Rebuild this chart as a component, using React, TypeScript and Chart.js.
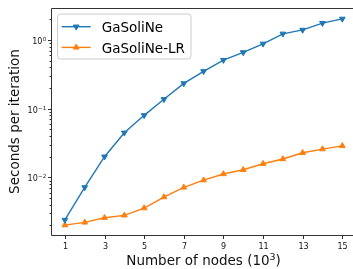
import React, { useEffect, useRef } from 'react';
import { Chart, registerables } from 'chart.js';

Chart.register(...registerables);

// ---- data ----
const nodes = [1, 2, 3, 4, 5, 6, 7, 8, 9, 10, 11, 12, 13, 14, 15];
const gasoline = [0.0024, 0.00715, 0.02, 0.0446, 0.08, 0.137, 0.233, 0.35, 0.51, 0.66, 0.88, 1.23, 1.4, 1.76, 2.03];
const gasolineLR = [0.00202, 0.00221, 0.00258, 0.0028, 0.00357, 0.00517, 0.00715, 0.0091, 0.0112, 0.0129, 0.0158, 0.0185, 0.0228, 0.0258, 0.0288];
const seriesLabels = ['GaSoliNe', 'GaSoliNe-LR'];
const seriesColors = ['#1f77b4', '#ff7f0e'];
const xTickValues = [1, 3, 5, 7, 9, 11, 13, 15];
const yDecadeExponents = [-3, -2, -1, 0];
const xTitleMain = 'Number of nodes (10';
const xTitleSup = '3';
const xTitleEnd = ')';
const yTitle = 'Seconds per iteration';

const FONT = '"DejaVu Sans", sans-serif';
const SPINE = '#333333';
const TEXT = '#111111';
const W = 353;
const H = 269;

function triangle(ctx: CanvasRenderingContext2D, x: number, y: number, r: number, down: boolean) {
  const s = down ? -1 : 1;
  ctx.beginPath();
  for (let k = 0; k < 3; k++) {
    const a = (k * 2 * Math.PI) / 3;
    const px = x + Math.sin(a) * r;
    const py = y - s * Math.cos(a) * r;
    if (k === 0) ctx.moveTo(px, py);
    else ctx.lineTo(px, py);
  }
  ctx.closePath();
}

function roundRect(ctx: CanvasRenderingContext2D, x: number, y: number, w: number, h: number, r: number) {
  ctx.beginPath();
  ctx.moveTo(x + r, y);
  ctx.lineTo(x + w - r, y);
  ctx.arcTo(x + w, y, x + w, y + r, r);
  ctx.lineTo(x + w, y + h - r);
  ctx.arcTo(x + w, y + h, x + w - r, y + h, r);
  ctx.lineTo(x + r, y + h);
  ctx.arcTo(x, y + h, x, y + h - r, r);
  ctx.lineTo(x, y + r);
  ctx.arcTo(x, y, x + r, y, r);
  ctx.closePath();
}

const axesPlugin = {
  id: 'mplAxes',
  afterDraw(chart: any) {
    const { ctx, chartArea: ca, scales } = chart;
    const xs = scales.x;
    const ys = scales.y;
    ctx.save();

    // frame (right spine lies beyond the visible area)
    ctx.strokeStyle = SPINE;
    ctx.lineWidth = 1;
    const L = Math.round(ca.left) + 0.5;
    const R = ca.right + 5;
    const T = Math.round(ca.top) + 0.5;
    const B = Math.round(ca.bottom) + 0.5;
    ctx.beginPath();
    ctx.moveTo(R, T);
    ctx.lineTo(L, T);
    ctx.lineTo(L, B);
    ctx.lineTo(R, B);
    ctx.stroke();

    // x ticks
    ctx.fillStyle = TEXT;
    ctx.font = `8px ${FONT}`;
    ctx.textAlign = 'center';
    ctx.textBaseline = 'alphabetic';
    for (const v of xTickValues) {
      const px = Math.round(xs.getPixelForValue(v)) + 0.5;
      ctx.beginPath();
      ctx.moveTo(px, B);
      ctx.lineTo(px, B + 3.5);
      ctx.stroke();
      ctx.fillText(String(v), px, B + 13);
    }

    // y ticks (major + minor)
    for (const e of yDecadeExponents) {
      for (let m = 1; m <= 9; m++) {
        const v = m * Math.pow(10, e);
        if (v < ys.min || v > ys.max) continue;
        const py = Math.round(ys.getPixelForValue(v)) + 0.5;
        const len = m === 1 ? 3.5 : 2;
        ctx.beginPath();
        ctx.moveTo(L, py);
        ctx.lineTo(L - len, py);
        ctx.stroke();
        if (m === 1) {
          const sup = e === 0 ? '0' : '\u2212' + String(-e);
          ctx.textAlign = 'left';
          ctx.font = `5.6px ${FONT}`;
          const sw = ctx.measureText(sup).width;
          ctx.font = `8px ${FONT}`;
          const bw = ctx.measureText('10').width;
          const right = L - 5.5;
          const x0 = right - sw - bw;
          const base = py + 3.6;
          ctx.fillText('10', x0, base);
          ctx.font = `5.6px ${FONT}`;
          ctx.fillText(sup, x0 + bw + 0.3, base - 3);
          ctx.font = `8px ${FONT}`;
        }
      }
    }

    // x title (centred on the full axes, whose right end is off-canvas)
    ctx.font = `13.5px ${FONT}`;
    const w1 = ctx.measureText(xTitleMain).width;
    const w3 = ctx.measureText(xTitleEnd).width;
    ctx.font = `9.45px ${FONT}`;
    const w2 = ctx.measureText(xTitleSup).width;
    const axRight = xs.getPixelForValue(15.7);
    const cx = (ca.left + axRight) / 2;
    let tx = cx - (w1 + w2 + w3) / 2;
    const tb = 265;
    ctx.textAlign = 'left';
    ctx.font = `13.5px ${FONT}`;
    ctx.fillText(xTitleMain, tx, tb);
    tx += w1;
    ctx.font = `9.45px ${FONT}`;
    ctx.fillText(xTitleSup, tx, tb - 5);
    tx += w2;
    ctx.font = `13.5px ${FONT}`;
    ctx.fillText(xTitleEnd, tx, tb);

    // y title
    ctx.save();
    ctx.translate(18.5, (ca.top + ca.bottom) / 2);
    ctx.rotate(-Math.PI / 2);
    ctx.textAlign = 'center';
    ctx.font = `13.5px ${FONT}`;
    ctx.fillText(yTitle, 0, 0);
    ctx.restore();

    // legend
    const bx = 57.5, by = 14, bw2 = 133.5, bh = 45;
    roundRect(ctx, bx, by, bw2, bh, 3);
    ctx.fillStyle = 'rgba(255,255,255,0.8)';
    ctx.fill();
    ctx.strokeStyle = '#cccccc';
    ctx.lineWidth = 1;
    ctx.stroke();
    chart.data.datasets.forEach((ds: any, i: number) => {
      const ly = 26.7 + i * 20.7;
      ctx.strokeStyle = ds.borderColor;
      ctx.lineWidth = 1.4;
      ctx.beginPath();
      ctx.moveTo(61.7, ly);
      ctx.lineTo(90.7, ly);
      ctx.stroke();
      triangle(ctx, 76.2, ly, 3.3, i === 0);
      ctx.fillStyle = ds.borderColor;
      ctx.lineWidth = 1;
      ctx.fill();
      ctx.stroke();
      ctx.fillStyle = '#000';
      ctx.font = `13.5px ${FONT}`;
      ctx.textAlign = 'left';
      ctx.fillText(ds.label, 101.7, ly + 5.2);
    });

    ctx.restore();
  },
};

export default function App() {
  const ref = useRef<HTMLCanvasElement | null>(null);

  useEffect(() => {
    if (!ref.current) return;
    const mk = (vals: number[]) => nodes.map((x, i) => ({ x, y: vals[i] }));
    const chart = new Chart(ref.current, {
      type: 'line',
      data: {
        datasets: [
          {
            label: seriesLabels[0],
            data: mk(gasoline),
            borderColor: seriesColors[0],
            backgroundColor: seriesColors[0],
            pointBackgroundColor: seriesColors[0],
            pointBorderColor: seriesColors[0],
            borderWidth: 1.4,
            pointStyle: 'triangle',
            pointRotation: 180,
            pointRadius: 3.3,
            pointBorderWidth: 1,
            tension: 0,
          },
          {
            label: seriesLabels[1],
            data: mk(gasolineLR),
            borderColor: seriesColors[1],
            backgroundColor: seriesColors[1],
            pointBackgroundColor: seriesColors[1],
            pointBorderColor: seriesColors[1],
            borderWidth: 1.4,
            pointStyle: 'triangle',
            pointRotation: 0,
            pointRadius: 3.3,
            pointBorderWidth: 1,
            tension: 0,
          },
        ],
      },
      options: {
        animation: false,
        responsive: false,
        events: [],
        layout: { autoPadding: false, padding: { left: 51, top: 8, right: 0, bottom: 34 } },
        plugins: { legend: { display: false }, tooltip: { enabled: false } },
        scales: {
          x: { type: 'linear', min: 0.3, max: 15.54, display: false },
          y: { type: 'logarithmic', min: 0.00145, max: 2.92, display: false },
        },
      },
      plugins: [axesPlugin],
    });
    return () => chart.destroy();
  }, []);

  return (
    <div style={{ position: 'absolute', left: 0, top: 0, width: W, height: H, overflow: 'hidden', background: '#fff' }}>
      <canvas ref={ref} width={W} height={H} style={{ width: W, height: H, display: 'block' }} />
    </div>
  );
}
